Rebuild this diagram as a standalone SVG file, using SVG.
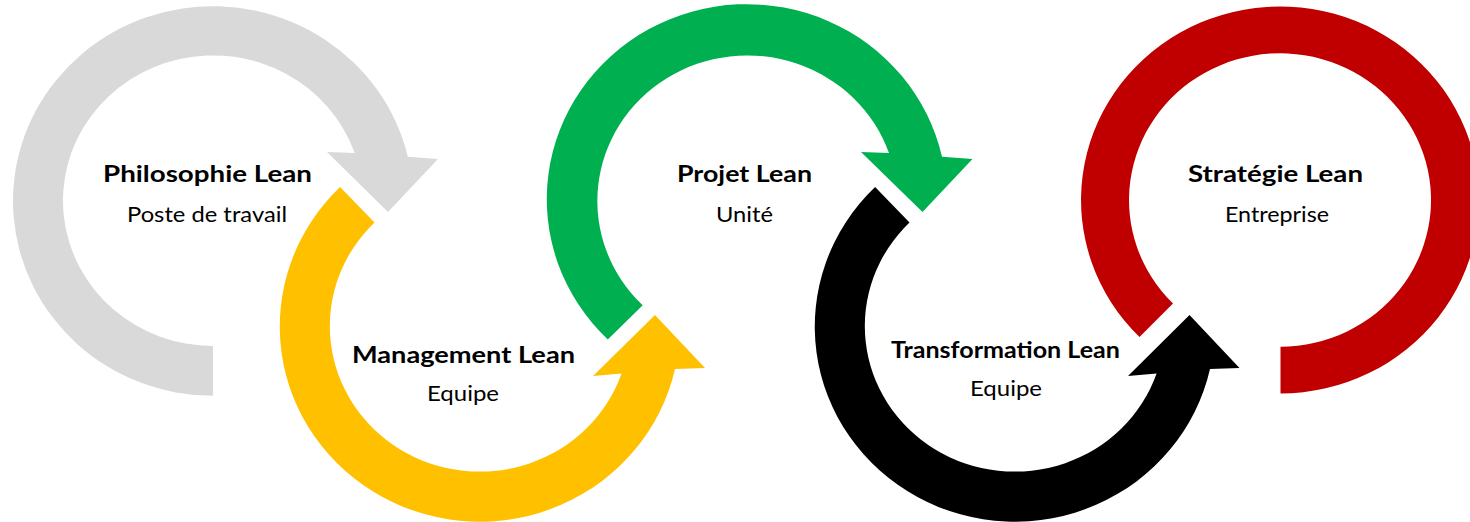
<svg xmlns="http://www.w3.org/2000/svg" width="1470" height="522" viewBox="0 0 1470 522">
<style>
.t{font-family:Lato,"Open Sans","Liberation Sans",sans-serif;font-weight:700;font-size:22px;fill:#000;text-anchor:middle}
.s{font-family:Lato,"Open Sans","Liberation Sans",sans-serif;font-weight:400;font-size:22px;fill:#000;text-anchor:middle}
</style>
<rect width="1470" height="522" fill="#fff"/>
<g id="connectors"></g>
<g id="node-philosophie">
<path fill="#D9D9D9" d="M213,395.8 A200,194.8 0 1 1 407.8,156.8 L438,159 L388,212 L327,152 L354.7,153.1 A150,145.3 0 1 0 213,346 Z"/>
<text class="t" x="207.5" y="182" textLength="209" lengthAdjust="spacingAndGlyphs">Philosophie Lean</text>
<text class="s" x="207" y="222" textLength="160" lengthAdjust="spacingAndGlyphs">Poste de travail</text>
</g>
<g id="node-management">
<path fill="#FFC000" d="M340.1,187.1 A200,195 0 1 0 675,369 L705,368 L655,315 L593,376 L621.6,373.6 A150,145.5 0 1 1 374.5,222.5 Z"/>
<text class="t" x="463.5" y="363" textLength="223" lengthAdjust="spacingAndGlyphs">Management Lean</text>
<text class="s" x="463" y="401" textLength="72" lengthAdjust="spacingAndGlyphs">Equipe</text>
</g>
<g id="node-projet">
<path fill="#00B050" d="M607.8,339.4 A200,195 0 1 1 942,156.8 L972.5,159 L922.5,212 L861,152 L889,153.1 A150,145.5 0 1 0 642.7,305.2 Z"/>
<text class="t" x="744.5" y="182" textLength="135" lengthAdjust="spacingAndGlyphs">Projet Lean</text>
<text class="s" x="744.5" y="222" textLength="57" lengthAdjust="spacingAndGlyphs">Unité</text>
</g>
<g id="node-transformation">
<path fill="#000000" d="M875.1,187.1 A200,195 0 1 0 1210,369 L1239.5,368 L1189.5,315 L1128,376 L1156.6,373.6 A150,145.5 0 1 1 909.5,222.5 Z"/>
<text class="t" x="1005.5" y="358" textLength="229" lengthAdjust="spacingAndGlyphs">Transformation Lean</text>
<text class="s" x="1006" y="396" textLength="72" lengthAdjust="spacingAndGlyphs">Equipe</text>
</g>
<g id="node-strategie">
<path fill="#C00000" d="M1139.5,337 A199,193.5 0 1 1 1280.5,393.5 L1280.5,346.7 A151,146.7 0 1 0 1173,303.5 Z"/>
<text class="t" x="1275.5" y="182" textLength="175" lengthAdjust="spacingAndGlyphs">Stratégie Lean</text>
<text class="s" x="1277" y="222" textLength="104" lengthAdjust="spacingAndGlyphs">Entreprise</text>
</g>
</svg>
